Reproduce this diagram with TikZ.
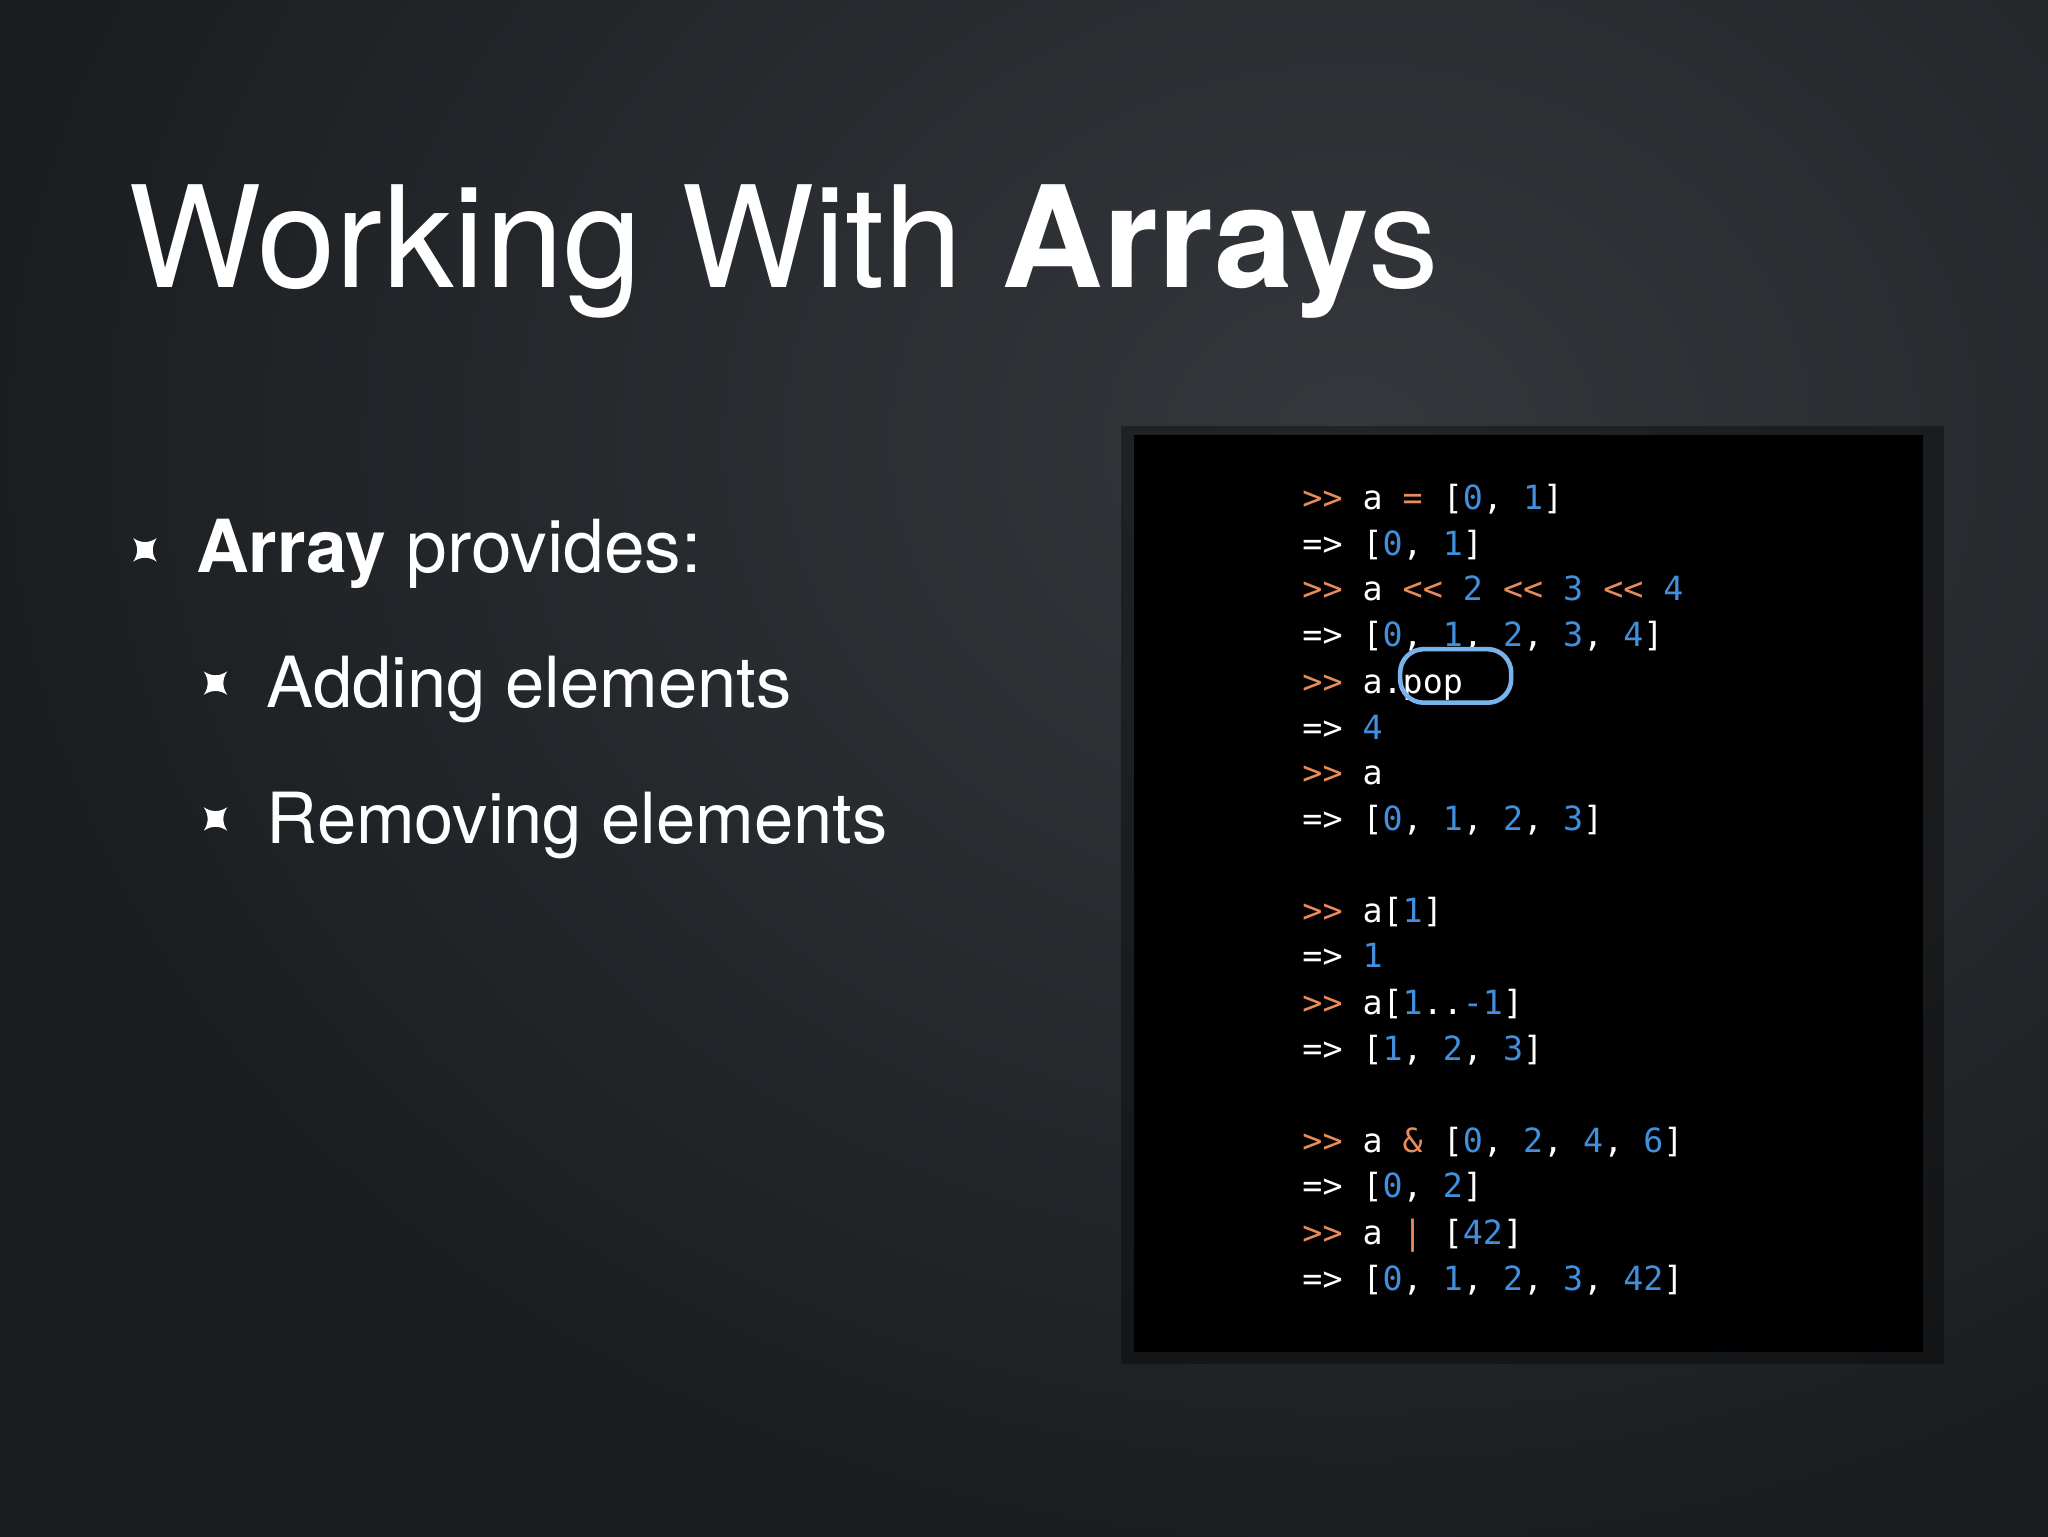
\documentclass[tikz,border=0pt]{standalone}
\usepackage{fontspec}
\setmainfont{TeX Gyre Heros}
\setmonofont{DejaVu Sans Mono}
\definecolor{bgc}{RGB}{26,29,32}
\definecolor{bgl}{RGB}{52,56,60}
\definecolor{por}{RGB}{232,140,90}
\definecolor{nbl}{RGB}{64,144,222}
\definecolor{ring}{RGB}{120,180,235}
\newcommand{\po}[1]{\textcolor{por}{#1}}
\newcommand{\nb}[1]{\textcolor{nbl}{#1}}
\begin{document}
\begin{tikzpicture}[x=1pt,y=-1pt,
  codeline/.style={anchor=base west,inner sep=0,text=white,font=\fontsize{25.5}{25.5}\ttfamily},
  bul/.style={anchor=base west,inner sep=0,text=white},
  marker/.style={fill=white}]
\useasboundingbox (0,0) rectangle (1568,1176);
\fill[bgc] (0,0) rectangle (1568,1176);
\shade[inner color=bgl,outer color=bgc,shift={(250,-250)}] (-300,-300) rectangle (1868,1476);
\fill[black,opacity=0.35] (858,326) rectangle (1488,1044);
\fill[black] (868,333) rectangle (1472,1035);
% title
\node[bul,font=\fontsize{108}{108}\selectfont] (title) at (98,220) {Working With \textbf{Array}s};
% bullets
\newcommand{\mk}[2]{\fill[marker] (#1-9,#2-9) .. controls (#1-3,#2-5) and (#1+3,#2-5) .. (#1+9,#2-9) .. controls (#1+5,#2-3) and (#1+5,#2+3) .. (#1+9,#2+9) .. controls (#1+3,#2+5) and (#1-3,#2+5) .. (#1-9,#2+9) .. controls (#1-5,#2+3) and (#1-5,#2-3) .. cycle;}
\mk{111}{421}
\mk{165}{523}
\mk{165}{627}
\node[bul,font=\fontsize{56}{56}\selectfont] (b1) at (150,438) {\textbf{Array} provides:};
\node[bul,font=\fontsize{54}{54}\selectfont] (b2) at (204,542) {Adding elements};
\node[bul,font=\fontsize{54}{54}\selectfont] (b3) at (204,646) {Removing elements};
% code
\node[codeline] (l1) at (997,390) {\po{>>} a \po{=} [\nb{0}, \nb{1}]};
\node[codeline] (l2) at (997,425) {=> [\nb{0}, \nb{1}]};
\node[codeline] (l3) at (997,460) {\po{>>} a \po{<<} \nb{2} \po{<<} \nb{3} \po{<<} \nb{4}};
\node[codeline] (l4) at (997,495) {=> [\nb{0}, \nb{1}, \nb{2}, \nb{3}, \nb{4}]};
\node[codeline] (l5) at (997,531) {\po{>>} a.pop};
\node[codeline] (l6) at (997,566) {=> \nb{4}};
\node[codeline] (l7) at (997,601) {\po{>>} a};
\node[codeline] (l8) at (997,636) {=> [\nb{0}, \nb{1}, \nb{2}, \nb{3}]};
\node[codeline] (l10) at (997,706) {\po{>>} a[\nb{1}]};
\node[codeline] (l11) at (997,741) {=> \nb{1}};
\node[codeline] (l12) at (997,777) {\po{>>} a[\nb{1}..\nb{-1}]};
\node[codeline] (l13) at (997,812) {=> [\nb{1}, \nb{2}, \nb{3}]};
\node[codeline] (l15) at (997,882) {\po{>>} a \po{\&} [\nb{0}, \nb{2}, \nb{4}, \nb{6}]};
\node[codeline] (l16) at (997,917) {=> [\nb{0}, \nb{2}]};
\node[codeline] (l17) at (997,953) {\po{>>} a \po{|} [\nb{42}]};
\node[codeline] (l18) at (997,988) {=> [\nb{0}, \nb{1}, \nb{2}, \nb{3}, \nb{42}]};
\draw[ring,line width=3.5pt,rounded corners=18pt] (1072,497) rectangle (1157,538);
\end{tikzpicture}
\end{document}
